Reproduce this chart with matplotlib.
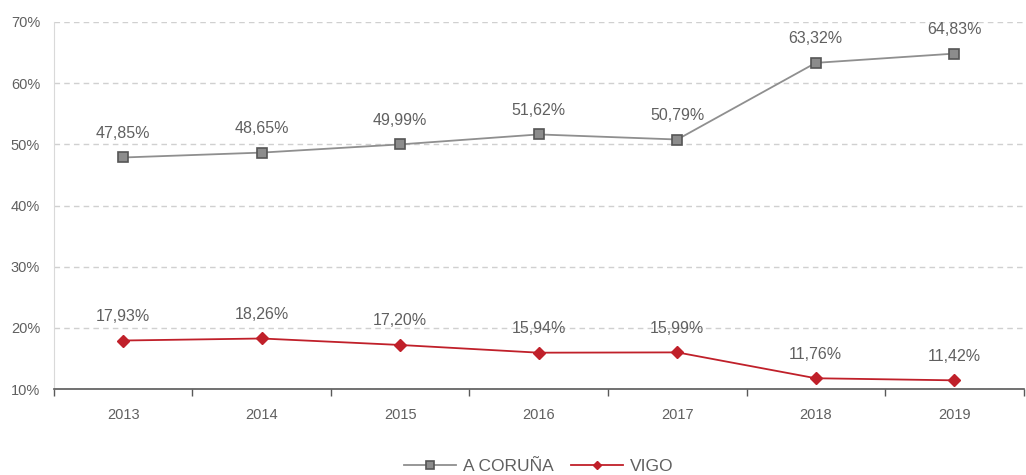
import matplotlib.pyplot as plt
import numpy as np

years = ['2013', '2014', '2015', '2016', '2017', '2018', '2019']
coruna = [47.85, 48.65, 49.99, 51.62, 50.79, 63.32, 64.83]
vigo = [17.93, 18.26, 17.20, 15.94, 15.99, 11.76, 11.42]

plt.rcParams['font.family'] = ['Liberation Sans', 'DejaVu Sans']

fig = plt.figure(figsize=(10.26, 4.75), dpi=100)
ax = fig.add_axes([0.0526, 0.181, 0.945, 0.7727])

x = np.arange(len(years))
ax.plot(x, coruna, color='#8f8f8f', lw=1.3, marker='s', ms=7.5,
        mfc='#8c8c8c', mec='#555555', mew=1.2, label='A CORUÑA', zorder=3)
ax.plot(x, vigo, color='#c0202a', lw=1.3, marker='D', ms=6,
        mfc='#c0202a', mec='#c0202a', label='VIGO', zorder=3)

def fmt(v):
    return ('%.2f' % v).replace('.', ',') + '%'

for i in range(len(years)):
    ax.annotate(fmt(coruna[i]), (x[i], coruna[i]), xytext=(0, 12),
                textcoords='offset points', ha='center', va='bottom',
                fontsize=11.5, color='#606060')
    ax.annotate(fmt(vigo[i]), (x[i], vigo[i]), xytext=(0, 12),
                textcoords='offset points', ha='center', va='bottom',
                fontsize=11.5, color='#606060')

ax.set_xlim(-0.5, len(years) - 0.5)
ax.set_ylim(10, 70)
ax.set_yticks(range(10, 71, 10))
ax.set_yticklabels(['%d%%' % v for v in range(10, 71, 10)])
ax.set_xticks(x)
ax.set_xticklabels(years)
ax.set_xticks(np.arange(-0.5, len(years), 1), minor=True)

ax.tick_params(axis='y', length=0, pad=10, labelsize=10.5, labelcolor='#606060')
ax.tick_params(axis='x', which='major', length=0, pad=14, labelsize=10.5, labelcolor='#606060')
ax.tick_params(axis='x', which='minor', length=5, width=1, color='#595959', direction='out')

ax.grid(axis='y', ls=(0, (4, 3)), color='#d0d0d0', lw=1)
ax.set_axisbelow(True)
for s in ['top', 'right']:
    ax.spines[s].set_visible(False)
ax.spines['left'].set_color('#d9d9d9')
ax.spines['bottom'].set_color('#595959')
ax.spines['bottom'].set_linewidth(1.2)

fig.legend(loc='lower center', ncol=2, frameon=False, fontsize=12.5,
           bbox_to_anchor=(0.525, -0.03), handlelength=3, columnspacing=1,
           handletextpad=0.4, labelcolor='#606060', markerscale=0.7)

plt.savefig('out.png', dpi=100)
